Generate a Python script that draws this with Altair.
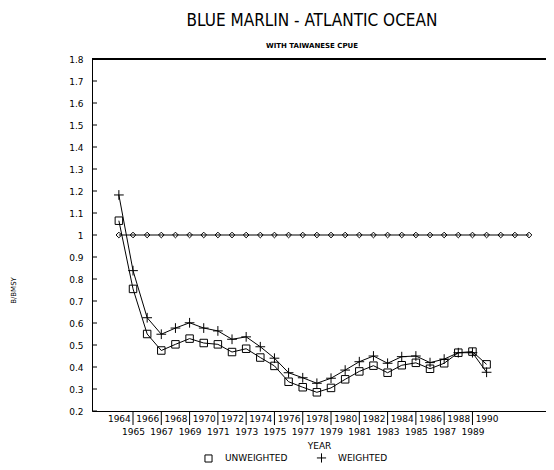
import altair as alt
import pandas as pd

years = list(range(1964, 1991))
unweighted = [1.065, 0.755, 0.55, 0.475, 0.503, 0.529, 0.509, 0.503, 0.468, 0.483,
              0.443, 0.405, 0.333, 0.308, 0.285, 0.305, 0.344, 0.38, 0.406, 0.374,
              0.408, 0.419, 0.392, 0.417, 0.465, 0.47, 0.412]
weighted = [1.182, 0.838, 0.624, 0.549, 0.577, 0.601, 0.577, 0.564, 0.526, 0.537,
            0.492, 0.44, 0.374, 0.351, 0.326, 0.349, 0.386, 0.424, 0.45, 0.417,
            0.447, 0.45, 0.42, 0.436, 0.465, 0.465, 0.376]
ref_years = list(range(1964, 1994))
ref_values = [1.0, 1.0, 1.0, 1.0, 1.0, 1.0, 1.0, 1.0, 1.0, 1.0,
              1.0, 1.0, 1.0, 1.0, 1.0, 1.0, 1.0, 1.0, 1.0, 1.0,
              1.0, 1.0, 1.0, 1.0, 1.0, 1.0, 1.0, 1.0, 1.0, 1.0]
y_ticks = [0.2, 0.3, 0.4, 0.5, 0.6, 0.7, 0.8, 0.9, 1.0, 1.1, 1.2, 1.3, 1.4, 1.5,
           1.6, 1.7, 1.8]
separator_years = [1965, 1967, 1969, 1971, 1973, 1975, 1977, 1979, 1981, 1983,
                   1985, 1987, 1989]
series_names = ["UNWEIGHTED", "WEIGHTED"]

W, H = 454, 352
FONT = "DejaVu Sans"

df = pd.DataFrame(
    {"year": years * 2,
     "value": unweighted + weighted,
     "series": ["UNWEIGHTED"] * len(years) + ["WEIGHTED"] * len(years)}
)
ref_df = pd.DataFrame({"year": ref_years, "value": ref_values})
ytick_df = pd.DataFrame({"value": y_ticks})
sep_df = pd.DataFrame({"year": separator_years})

xscale = alt.Scale(domain=[1962.1, 1994.2], nice=False, zero=False)
yscale = alt.Scale(domain=[0.2, 1.8], nice=False, zero=False)

x_axis = alt.Axis(
    title="YEAR", values=years, format="d", ticks=False,
    labelExpr="datum.value % 2 == 0 ? datum.label : [' ', datum.label]",
    labelOverlap=False, labelFont=FONT, labelFontSize=9, labelColor="black",
    labelLineHeight=13, labelPadding=3, labelBaseline="top",
    domainColor="black", grid=False,
    titleFont=FONT, titleFontSize=9, titleFontWeight="normal",
    titleColor="black", titleY=34, titleBaseline="middle",
)
y_axis = alt.Axis(
    title="B/BMSY", values=y_ticks, format=".1~f", ticks=False,
    labelOverlap=False, labelFont=FONT, labelFontSize=9, labelColor="black",
    labelPadding=9, domainColor="black", grid=False,
    titleFont=FONT, titleFontSize=7, titleFontWeight="normal",
    titleColor="black", titleX=-76, titleY=231, titleBaseline="bottom",
)


def X():
    return alt.X("year:Q", scale=xscale, axis=x_axis)


def Y():
    return alt.Y("value:Q", scale=yscale, axis=y_axis)


lines = alt.Chart(df).mark_line(color="black", strokeWidth=1).encode(
    x=X(), y=Y(), detail="series:N"
)
ref_line = alt.Chart(ref_df).mark_line(color="black", strokeWidth=1).encode(
    x=X(), y=Y()
)
points = alt.Chart(df).mark_point(
    filled=False, color="black", strokeWidth=1, opacity=1, size=56
).encode(
    x=X(), y=Y(),
    shape=alt.Shape(
        "series:N",
        scale=alt.Scale(domain=series_names,
                        range=["square", "M-1.3,0H1.3M0,-1.3V1.3"]),
        legend=alt.Legend(
            title=None, orient="none", direction="horizontal",
            legendX=112, legendY=394, labelFont=FONT, labelFontSize=9,
            labelColor="black", symbolStrokeColor="black",
            symbolFillColor="transparent", symbolSize=50, symbolStrokeWidth=1,
            labelOffset=12, columnPadding=26,
        ),
    ),
)
ref_points = alt.Chart(ref_df).mark_point(
    shape="diamond", filled=False, color="black", strokeWidth=1, size=32, opacity=1
).encode(x=X(), y=Y())

ytick_rules = alt.Chart(ytick_df).mark_rule(color="black", strokeWidth=1).encode(
    y=Y(), x=alt.value(0), x2=alt.value(5)
)
sep_rules = alt.Chart(sep_df).mark_rule(color="black", strokeWidth=1, clip=False).encode(
    x=X(), y=alt.value(H), y2=alt.value(H + 14)
)
top_rule = alt.Chart(ytick_df).mark_rule(color="black", strokeWidth=1).encode(
    x=alt.value(0), x2=alt.value(W), y=alt.value(0)
)

chart = alt.layer(
    lines, ref_line, points, ref_points, ytick_rules, sep_rules, top_rule
).properties(
    width=W, height=H,
    title=alt.TitleParams(
        text="BLUE MARLIN - ATLANTIC OCEAN",
        subtitle="WITH TAIWANESE CPUE",
        anchor="middle", dx=-7, offset=5,
        font="Liberation Sans Narrow, DejaVu Sans Condensed, Liberation Sans",
        fontSize=17, fontWeight="normal", color="black",
        subtitleFont=FONT, subtitleFontSize=7, subtitleFontWeight="bold",
        subtitleColor="black", subtitlePadding=12,
    ),
    padding={"left": 84, "top": 51, "right": 0, "bottom": 53},
    autosize=alt.AutoSizeParams(type="none"),
    background="white",
).configure_view(stroke=None)

chart.save("out.html", embed_options={"renderer": "svg", "actions": False})
